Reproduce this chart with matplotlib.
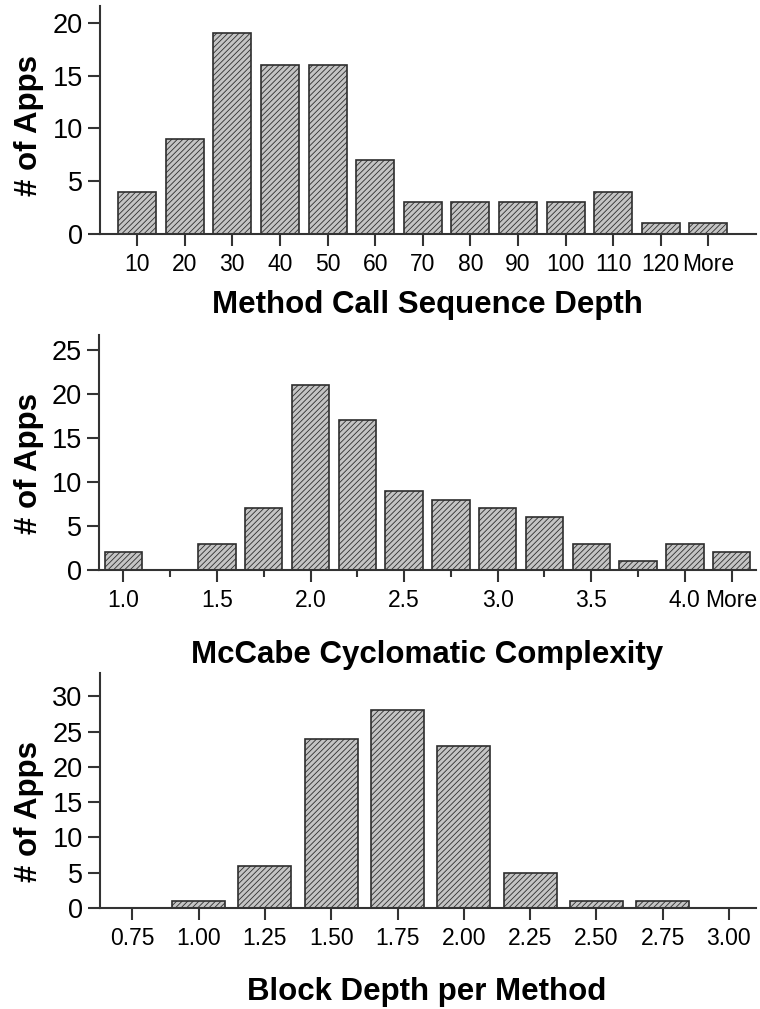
import matplotlib
matplotlib.use("Agg")
import matplotlib.pyplot as plt

plt.rcParams['font.family'] = ['Liberation Sans', 'DejaVu Sans']
plt.rcParams['hatch.color'] = '#707070'
plt.rcParams['hatch.linewidth'] = 0.6

# ---- data ----
depth_labels = ["10", "20", "30", "40", "50", "60", "70", "80", "90", "100", "110", "120", "More"]
depth_counts = [4, 9, 19, 16, 16, 7, 3, 3, 3, 3, 4, 1, 1]

mccabe_labels = ["1.0", "", "1.5", "", "2.0", "", "2.5", "", "3.0", "", "3.5", "", "4.0", "More"]
mccabe_counts = [2, 0, 3, 7, 21, 17, 9, 8, 7, 6, 3, 1, 3, 2]

block_labels = ["0.75", "1.00", "1.25", "1.50", "1.75", "2.00", "2.25", "2.50", "2.75", "3.00"]
block_counts = [0, 1, 6, 24, 28, 23, 5, 1, 1, 0]

W, H = 760, 1009
fig = plt.figure(figsize=(W / 100, H / 100), dpi=100)

def px_axes(left, right, top, bottom):
    return fig.add_axes([left / W, 1 - bottom / H, (right - left) / W, (bottom - top) / H])

FACE = '#c4c4c4'
EDGE = '#2e2e2e'
SPINE = '#333333'

def style(ax, labels, counts, xlim, ylim, yticks, xlabel, xlabel_base, ylabel_center):
    x = list(range(len(labels)))
    ax.bar(x, counts, width=0.8, color=FACE, edgecolor=EDGE, linewidth=1.2, hatch='//////')
    ax.set_xlim(*xlim)
    ax.set_ylim(*ylim)
    ax.set_yticks(yticks)
    ax.set_yticklabels([str(v) for v in yticks], fontsize=19.5)
    major = [i for i, l in enumerate(labels) if l]
    minor = [i for i, l in enumerate(labels) if not l]
    ax.set_xticks(major)
    ax.set_xticklabels([labels[i] for i in major], fontsize=16.5)
    ax.set_xticks(minor, minor=True)
    for s in ['top', 'right']:
        ax.spines[s].set_visible(False)
    for s in ['left', 'bottom']:
        ax.spines[s].set_linewidth(1.5)
        ax.spines[s].set_color(SPINE)
    ax.tick_params(axis='both', which='major', direction='out', length=8.5, width=1.5,
                   color=SPINE, pad=4)
    ax.tick_params(axis='x', which='minor', direction='out', length=5, width=1.5, color=SPINE)
    ax.tick_params(axis='x', which='major', pad=5)
    fig.text(427 / W, 1 - xlabel_base / H, xlabel, fontsize=22.5, fontweight='bold',
             ha='center', va='baseline')
    fig.text(29 / W, 1 - ylabel_center / H, '# of Apps', fontsize=22.5, fontweight='bold',
             rotation=90, ha='center', va='center')

ax1 = px_axes(100, 756, 6, 234)
style(ax1, depth_labels, depth_counts, (-0.78, 13.0), (0, 21.6), [0, 5, 10, 15, 20],
      'Method Call Sequence Depth', 313, 126)

ax2 = px_axes(99, 756, 335, 570)
style(ax2, mccabe_labels, mccabe_counts, (-0.52, 13.52), (0, 26.7), [0, 5, 10, 15, 20, 25],
      'McCabe Cyclomatic Complexity', 663, 464)

ax3 = px_axes(100, 756, 673, 908)
style(ax3, block_labels, block_counts, (-0.49, 9.41), (0, 33.3), [0, 5, 10, 15, 20, 25, 30],
      'Block Depth per Method', 1000, 811)

fig.savefig('out.png', dpi=100)
